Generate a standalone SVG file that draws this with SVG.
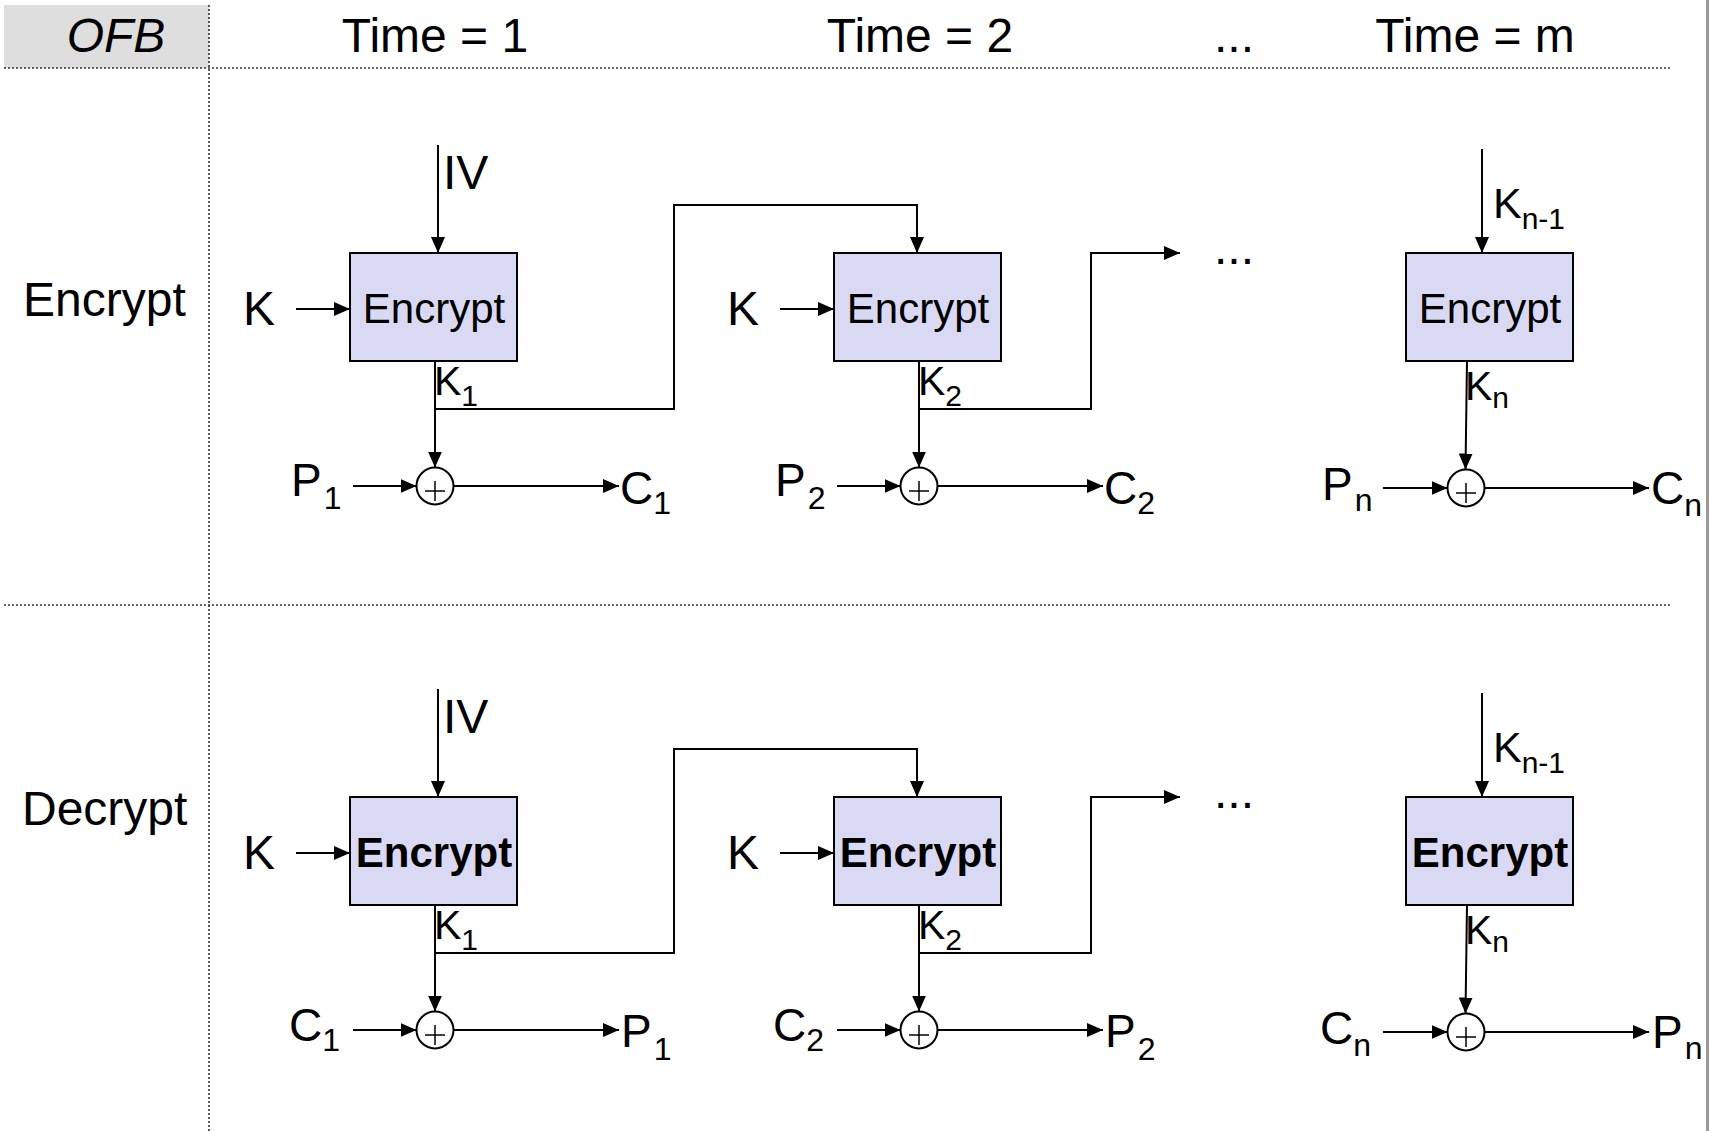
<svg xmlns="http://www.w3.org/2000/svg" width="1710" height="1131" viewBox="0 0 1710 1131">
<style>
text{font-family:"Liberation Sans",Arial,sans-serif;fill:#000}
.hd{font-size:48px}
.rl{font-size:48px}
.lb{font-size:48px}
.io{font-size:46px}
.ki{font-size:41px}
.kn{font-size:43px}
.sb{font-size:32px}
.ks{font-size:30px}
.bt{font-size:42px;text-anchor:middle}
.bb{font-size:42px;font-weight:bold;text-anchor:middle}
.box{fill:#d9d9f3;stroke:#000;stroke-width:2}
.xor{fill:#fff;stroke:#000;stroke-width:2}
.pl{stroke:#000;stroke-width:1.5}
.ar{fill:none;stroke:#000;stroke-width:2;marker-end:url(#ah)}
.dot{fill:none;stroke:#333;stroke-width:1.6;stroke-dasharray:2 2}
</style>
<defs>
<marker id="ah" markerWidth="16" markerHeight="14" refX="16" refY="7" orient="auto" markerUnits="userSpaceOnUse"><path d="M0,0 L16,7 L0,14 z" fill="#000"/></marker>
</defs>
<rect width="1710" height="1131" fill="#fff"/>
<g id="grid">
<rect x="4" y="5" width="205" height="63" fill="#dedede"/>
<line class="dot" x1="4" y1="68" x2="1671" y2="68"/>
<line class="dot" x1="4" y1="605" x2="1671" y2="605"/>
<line class="dot" x1="209" y1="5" x2="209" y2="1131"/>
<line x1="1707.5" y1="0" x2="1707.5" y2="1131" stroke="#999" stroke-width="3"/>
</g>
<g id="header">
<text class="hd" x="116" y="52" text-anchor="middle" font-style="italic">OFB</text>
<text class="hd" x="435" y="52" text-anchor="middle">Time = 1</text>
<text class="hd" x="920" y="52" text-anchor="middle">Time = 2</text>
<text class="hd" x="1234" y="52" text-anchor="middle">...</text>
<text class="hd" x="1475" y="52" text-anchor="middle">Time = m</text>
</g>
<g id="row-labels">
<text class="rl" x="23" y="316">Encrypt</text>
<text class="rl" x="22" y="825">Decrypt</text>
</g>
<g id="connectors">
<line class="ar" x1="438" y1="145" x2="438" y2="253"/>
<line class="ar" x1="296" y1="309" x2="350" y2="309"/>
<line class="ar" x1="780" y1="309" x2="834" y2="309"/>
<line class="ar" x1="435" y1="361" x2="435" y2="467.5"/>
<line class="ar" x1="919" y1="361" x2="919" y2="467.5"/>
<line class="ar" x1="1467" y1="361" x2="1465.5" y2="469.5"/>
<path class="ar" d="M435,409 H674 V205 H917 V253"/>
<path class="ar" d="M919,409 H1091 V253 H1180"/>
<line class="ar" x1="1482" y1="149" x2="1482" y2="253"/>
<line class="ar" x1="353" y1="486" x2="416.5" y2="486"/>
<line class="ar" x1="837" y1="486" x2="900.5" y2="486"/>
<line class="ar" x1="1383" y1="488" x2="1447.5" y2="488"/>
<line class="ar" x1="453.5" y1="486" x2="619" y2="486"/>
<line class="ar" x1="937.5" y1="486" x2="1103" y2="486"/>
<line class="ar" x1="1484.5" y1="488" x2="1649" y2="488"/>
<line class="ar" x1="438" y1="689" x2="438" y2="797"/>
<line class="ar" x1="296" y1="853" x2="350" y2="853"/>
<line class="ar" x1="780" y1="853" x2="834" y2="853"/>
<line class="ar" x1="435" y1="905" x2="435" y2="1011.5"/>
<line class="ar" x1="919" y1="905" x2="919" y2="1011.5"/>
<line class="ar" x1="1467" y1="905" x2="1465.5" y2="1013.5"/>
<path class="ar" d="M435,953 H674 V749 H917 V797"/>
<path class="ar" d="M919,953 H1091 V797 H1180"/>
<line class="ar" x1="1482" y1="693" x2="1482" y2="797"/>
<line class="ar" x1="353" y1="1030" x2="416.5" y2="1030"/>
<line class="ar" x1="837" y1="1030" x2="900.5" y2="1030"/>
<line class="ar" x1="1383" y1="1032" x2="1447.5" y2="1032"/>
<line class="ar" x1="453.5" y1="1030" x2="619" y2="1030"/>
<line class="ar" x1="937.5" y1="1030" x2="1103" y2="1030"/>
<line class="ar" x1="1484.5" y1="1032" x2="1649" y2="1032"/>
</g>
<g id="enc-e1"><rect class="box" x="350" y="253" width="167" height="108"/><text class="bt" x="434" y="323">Encrypt</text></g>
<g id="enc-e2"><rect class="box" x="834" y="253" width="167" height="108"/><text class="bt" x="918" y="323">Encrypt</text></g>
<g id="enc-e3"><rect class="box" x="1406" y="253" width="167" height="108"/><text class="bt" x="1490" y="323">Encrypt</text></g>
<g id="enc-d1"><rect class="box" x="350" y="797" width="167" height="108"/><text class="bb" x="434" y="867">Encrypt</text></g>
<g id="enc-d2"><rect class="box" x="834" y="797" width="167" height="108"/><text class="bb" x="918" y="867">Encrypt</text></g>
<g id="enc-d3"><rect class="box" x="1406" y="797" width="167" height="108"/><text class="bb" x="1490" y="867">Encrypt</text></g>
<g id="xor-e1"><circle class="xor" cx="435" cy="486" r="18.5"/><line class="pl" x1="425" y1="491" x2="445" y2="491"/><line class="pl" x1="435" y1="481" x2="435" y2="501"/></g>
<g id="xor-e2"><circle class="xor" cx="919" cy="486" r="18.5"/><line class="pl" x1="909" y1="491" x2="929" y2="491"/><line class="pl" x1="919" y1="481" x2="919" y2="501"/></g>
<g id="xor-e3"><circle class="xor" cx="1466" cy="488" r="18.5"/><line class="pl" x1="1456" y1="493" x2="1476" y2="493"/><line class="pl" x1="1466" y1="483" x2="1466" y2="503"/></g>
<g id="xor-d1"><circle class="xor" cx="435" cy="1030" r="18.5"/><line class="pl" x1="425" y1="1035" x2="445" y2="1035"/><line class="pl" x1="435" y1="1025" x2="435" y2="1045"/></g>
<g id="xor-d2"><circle class="xor" cx="919" cy="1030" r="18.5"/><line class="pl" x1="909" y1="1035" x2="929" y2="1035"/><line class="pl" x1="919" y1="1025" x2="919" y2="1045"/></g>
<g id="xor-d3"><circle class="xor" cx="1466" cy="1032" r="18.5"/><line class="pl" x1="1456" y1="1037" x2="1476" y2="1037"/><line class="pl" x1="1466" y1="1027" x2="1466" y2="1047"/></g>
<g id="labels-encrypt">
<text class="lb" x="443" y="189">IV</text>
<text class="lb" x="243" y="325">K</text>
<text class="lb" x="727" y="325">K</text>
<text class="ki" x="434" y="395">K<tspan class="ks" dy="11">1</tspan></text>
<text class="ki" x="918" y="395">K<tspan class="ks" dy="11">2</tspan></text>
<text class="ki" x="1465" y="400">K<tspan class="ks" dy="8">n</tspan></text>
<text class="kn" x="1493" y="218">K<tspan class="ks" dy="11">n-1</tspan></text>
<text class="lb" x="1214" y="264">...</text>
<text class="io" x="291" y="496">P<tspan class="sb" dx="2" dy="13">1</tspan></text>
<text class="io" x="620" y="504">C<tspan class="sb" dy="10">1</tspan></text>
<text class="io" x="775" y="496">P<tspan class="sb" dx="2" dy="13">2</tspan></text>
<text class="io" x="1104" y="504">C<tspan class="sb" dy="10">2</tspan></text>
<text class="io" x="1322" y="500">P<tspan class="sb" dx="2" dy="11">n</tspan></text>
<text class="io" x="1651" y="504">C<tspan class="sb" dy="12">n</tspan></text>
</g>
<g id="labels-decrypt">
<text class="lb" x="443" y="733">IV</text>
<text class="lb" x="243" y="869">K</text>
<text class="lb" x="727" y="869">K</text>
<text class="ki" x="434" y="939">K<tspan class="ks" dy="11">1</tspan></text>
<text class="ki" x="918" y="939">K<tspan class="ks" dy="11">2</tspan></text>
<text class="ki" x="1465" y="944">K<tspan class="ks" dy="8">n</tspan></text>
<text class="kn" x="1493" y="762">K<tspan class="ks" dy="11">n-1</tspan></text>
<text class="lb" x="1214" y="808">...</text>
<text class="io" x="289" y="1041">C<tspan class="sb" dy="10">1</tspan></text>
<text class="io" x="621" y="1047">P<tspan class="sb" dx="2" dy="13">1</tspan></text>
<text class="io" x="773" y="1041">C<tspan class="sb" dy="10">2</tspan></text>
<text class="io" x="1105" y="1047">P<tspan class="sb" dx="2" dy="13">2</tspan></text>
<text class="io" x="1320" y="1044">C<tspan class="sb" dy="12">n</tspan></text>
<text class="io" x="1652" y="1048">P<tspan class="sb" dx="2" dy="11">n</tspan></text>
</g>
</svg>
